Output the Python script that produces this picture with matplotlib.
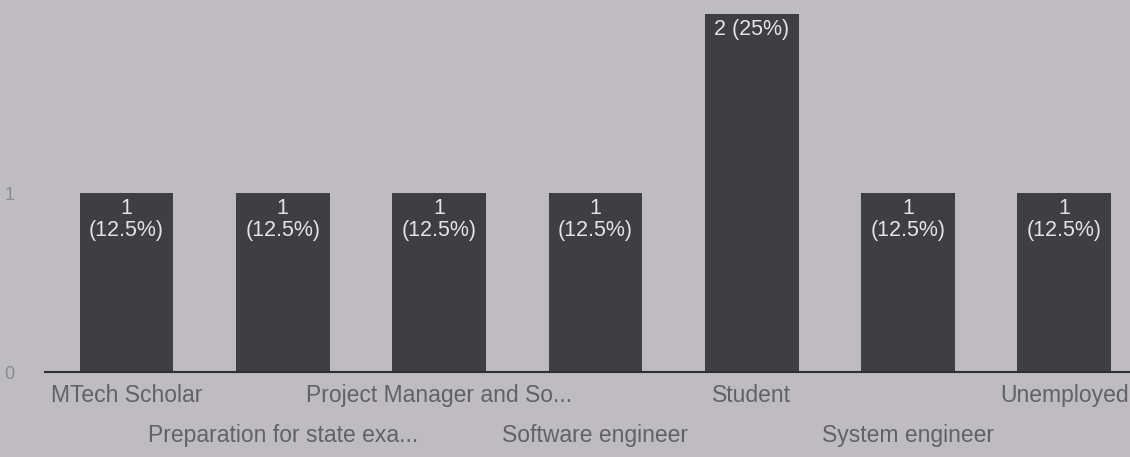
import matplotlib
matplotlib.use("Agg")
import matplotlib.pyplot as plt

# data
categories = ["MTech Scholar", "Preparation for state exa...", "Project Manager and So...",
              "Software engineer", "Student", "System engineer", "Unemployed"]
counts = [1, 1, 1, 1, 2, 1, 1]
value_labels = ["1\n(12.5%)", "1\n(12.5%)", "1\n(12.5%)", "1\n(12.5%)",
                "2 (25%)", "1\n(12.5%)", "1\n(12.5%)"]

bg = "#bebcc1"
bar_col = "#3f3e43"
txt_col = "#626167"

plt.rcParams['font.family'] = ['Liberation Sans', 'DejaVu Sans']

fig = plt.figure(figsize=(11.3, 4.57), dpi=100, facecolor=bg)
ax = fig.add_axes([0.04, 0.185, 0.96, 0.785])
ax.set_facecolor(bg)

xs = range(len(categories))
ax.bar(xs, counts, width=0.6, color=bar_col, zorder=2)

for x, c, lab in zip(xs, counts, value_labels):
    ax.text(x, c - 0.03, lab, ha="center", va="top", color="#e4e3e7",
            fontsize=15.5, linespacing=1.05, zorder=3)

ax.set_xlim(-0.52, 6.42)
ax.set_ylim(0, 2)
ax.set_yticks([0, 1])
ax.set_yticklabels(["0", "1"], color="#8a898e", fontsize=13)
ax.tick_params(axis="y", length=0, pad=22)

# alternate the category names on two rows, like the original
ax.set_xticks(list(xs))
ax.set_xticklabels([])
ax.tick_params(axis="x", length=0)
for x, name in zip(xs, categories):
    dy = -0.13 if x % 2 == 0 else -0.35
    ax.text(x, dy, name, ha="center", va="center", color=txt_col, fontsize=16.5,
            transform=ax.transData, clip_on=False)

for s in ["top", "right", "left"]:
    ax.spines[s].set_visible(False)
ax.spines["bottom"].set_color("#2f2e33")
ax.spines["bottom"].set_linewidth(1.5)

fig.savefig("out.png", dpi=100, facecolor=bg)
